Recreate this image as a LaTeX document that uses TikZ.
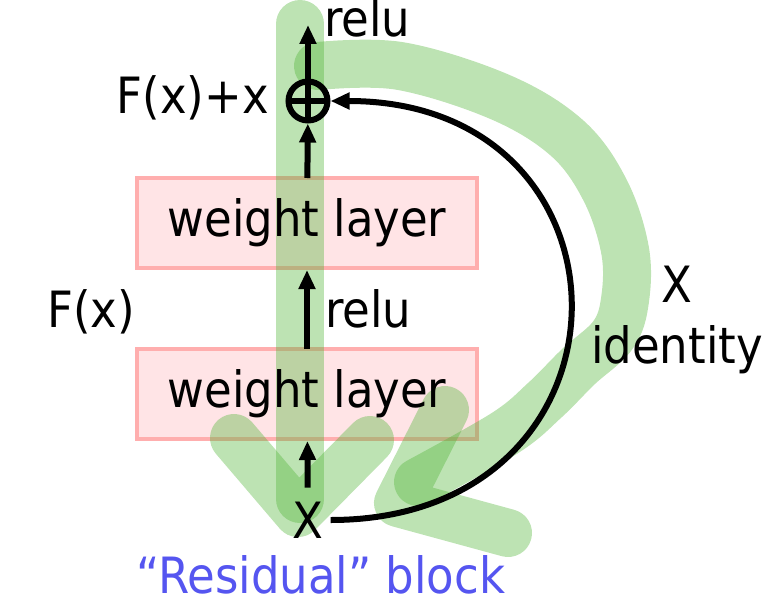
\documentclass[tikz,border=0pt]{standalone}
\usepackage{fontspec}
\setmainfont{DejaVu Sans Condensed}
\usepackage{xcolor}
\usetikzlibrary{arrows.meta,positioning}

\definecolor{boxfill}{RGB}{255,228,230}
\definecolor{boxline}{RGB}{255,174,174}
\definecolor{hlgreen}{RGB}{81,181,55}
\definecolor{resblue}{RGB}{85,85,240}

\pgfdeclarelayer{back}
\pgfdeclarelayer{marks}
\pgfsetlayers{back,marks,main}

\begin{document}
\begin{tikzpicture}[
  x=1pt, y=-1pt,
  txt/.style={inner sep=2pt, font=\fontsize{50}{61}\selectfont},
  layer/.style={txt, minimum width=336pt, minimum height=86pt, outer sep=2pt},
  layerbox/.style={draw=boxline, fill=boxfill, line width=4.5pt},
  arrow/.style={-{Triangle[length=19pt,width=16pt]}, line width=6pt},
  marker/.style={draw=hlgreen, draw opacity=0.38, line width=48pt,
    line cap=round, line join=round}
]
\useasboundingbox (0,0) rectangle (776,602);
\node[layer] (wl2) at (307,223) {weight layer};
\node[layer, below=81pt of wl2] (wl1) {weight layer};
\node[circle, draw, line width=6pt, minimum size=39pt, inner sep=0pt,
  path picture={\draw[line width=6pt]
    (path picture bounding box.north) -- (path picture bounding box.south)
    (path picture bounding box.west) -- (path picture bounding box.east);}]
  (plus) at (308,101) {};
\node[txt, inner xsep=7pt] (xin) at (308,520) {X};
\coordinate (out) at (308,25);
% labels
\node[txt, anchor=base west] (relutop) at (322,37) {relu};
\node[txt, anchor=base west] (relumid) at (323,327) {relu};
\node[txt, anchor=base east] (sum) at (271,113) {F(x)+x};
\node[txt, anchor=base west] (fx) at (45,327) {F(x)};
\node[txt, align=center] (idlabel) at (677,320) {X\\identity};
\node[txt, inner sep=0pt, text=resblue] (caption) at (321,575) {“Residual” block};
% connectors
\draw[arrow, shorten <=12pt, shorten >=2pt] (xin) -- (wl1);
\draw[arrow, shorten >=2pt] (wl1) -- (wl2);
\draw[arrow] (wl2) -- (plus);
\draw[arrow] (plus) -- (out);
\draw[arrow] (xin.east) to[out=0, in=0, looseness=1.95] (plus.east);
% boxes under the highlighter
\begin{pgfonlayer}{back}
  \draw[layerbox] (wl2.south west) rectangle (wl2.north east);
  \draw[layerbox] (wl1.south west) rectangle (wl1.north east);
\end{pgfonlayer}
% highlighter strokes
\begin{pgfonlayer}{marks}
  \draw[marker] (300,24) -- (300,499);
  \draw[marker] (234,438) -- (298,513) -- (370,440);
  \draw[marker] plot[smooth, tension=0.6] coordinates {(318,66) (400,66)
    (500,97) (567,138) (605,190) (625,250) (625,300) (613,335) (578,367)
    (545,400) (505,433) (418,482)};
  \draw[marker] (445,410) -- (398,503) -- (508,533);
\end{pgfonlayer}
\end{tikzpicture}
\end{document}
